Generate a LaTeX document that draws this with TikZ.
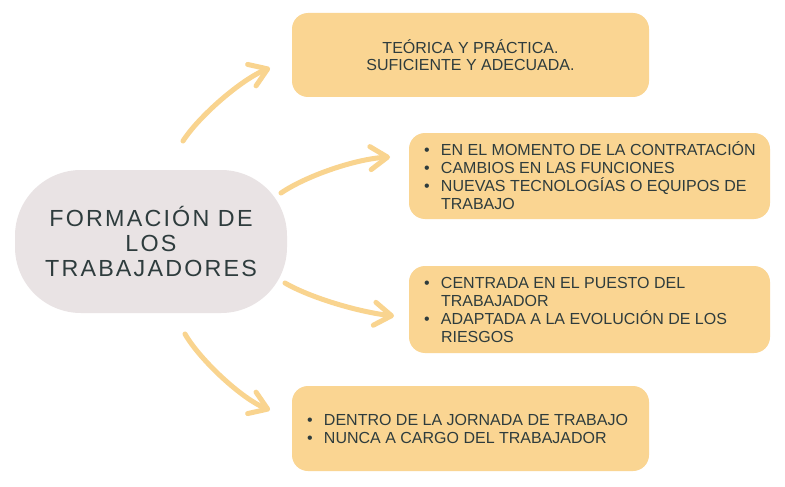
\documentclass[tikz,border=0pt]{standalone}
\usepackage{fontspec}
\setmainfont{Liberation Sans}
\newfontfamily\titulo[LetterSpace=9.4]{Liberation Sans}
\usetikzlibrary{positioning}
\usetikzlibrary{arrows.meta}
\definecolor{amarillo}{HTML}{FAD592}
\definecolor{flecha}{HTML}{F9D48F}
\definecolor{rosado}{HTML}{E9E3E4}
\definecolor{tinta}{HTML}{2E3C3D}
\newcommand{\bul}{\makebox[17pt][l]{\textbullet}}
\newcommand{\sig}{\hspace*{17pt}}

\begin{document}
\begin{tikzpicture}[
    x=1pt,y=-1pt,
    centro/.style={rectangle,rounded corners=66pt,fill=rosado,minimum width=272pt,minimum height=143pt,
      text=tinta,align=center,font=\titulo\fontsize{23.3}{25}\selectfont},
    caja/.style={rectangle,rounded corners=16pt,fill=amarillo,minimum width=357pt,minimum height=84pt,
      text=tinta,align=center,font=\fontsize{16}{17.4}\selectfont},
    cajab/.style={caja,minimum width=361pt},
    lista/.style={inner sep=0pt,text=tinta,align=left,font=\fontsize{16}{18}\selectfont},
    arr/.style={line width=5pt,draw=flecha,line cap=round,line join=round,
      -{Straight Barb[round,length=17pt,width=23pt]}}
    ]
    \fill[white] (0,0) rectangle (785,487);
    \useasboundingbox (0,0) rectangle (785,487);
    \node (form) [centro] at (151,241.5) {FORMACIÓN DE\\LOS\\TRABAJADORES};
    \node (teoria) [caja] at (470.5,55) {TEÓRICA Y PRÁCTICA.\\SUFICIENTE Y ADECUADA.};
    \node (momento) [cajab,minimum height=86pt] at (589.5,176) {};
    \node (puesto) [cajab,minimum height=87pt] at (589.5,309.5) {};
    \node (jornada) [caja,minimum height=85pt] at (470.5,428.5) {};
    \node (tmomento) [lista,anchor=west] at ([xshift=15pt]momento.west)
      {\bul EN EL MOMENTO DE LA CONTRATACIÓN\\\bul CAMBIOS EN LAS FUNCIONES\\
       \bul NUEVAS TECNOLOGÍAS O EQUIPOS DE\\\sig TRABAJO};
    \node (tpuesto) [lista,anchor=west] at ([xshift=15pt]puesto.west)
      {\bul CENTRADA EN EL PUESTO DEL\\\sig TRABAJADOR\\
       \bul ADAPTADA A LA EVOLUCIÓN DE LOS\\\sig RIESGOS};
    \node (tjornada) [lista,anchor=west] at ([xshift=15pt]jornada.west)
      {\bul DENTRO DE LA JORNADA DE TRABAJO\\\bul NUNCA A CARGO DEL TRABAJADOR};
    % flechas
    \coordinate (f1a) at (183,141);
    \coordinate (f1b) at (270,68);
    \coordinate (f2a) at (281,193);
    \coordinate (f2b) at (390,157);
    \coordinate (f3a) at (285,283);
    \coordinate (f3b) at (394,316);
    \coordinate (f4a) at (185,334);
    \coordinate (f4b) at (270,410);
    \draw[arr] (f1a) .. controls +(16,-25) and +(-28,11) .. (f1b);
    \draw[arr] (f2a) .. controls +(25,-17) and +(-35,2) .. (f2b);
    \draw[arr] (f3a) .. controls +(26,15) and +(-35,-4) .. (f3b);
    \draw[arr] (f4a) .. controls +(15,26) and +(-28,-11) .. (f4b);
  \end{tikzpicture}
\end{document}
